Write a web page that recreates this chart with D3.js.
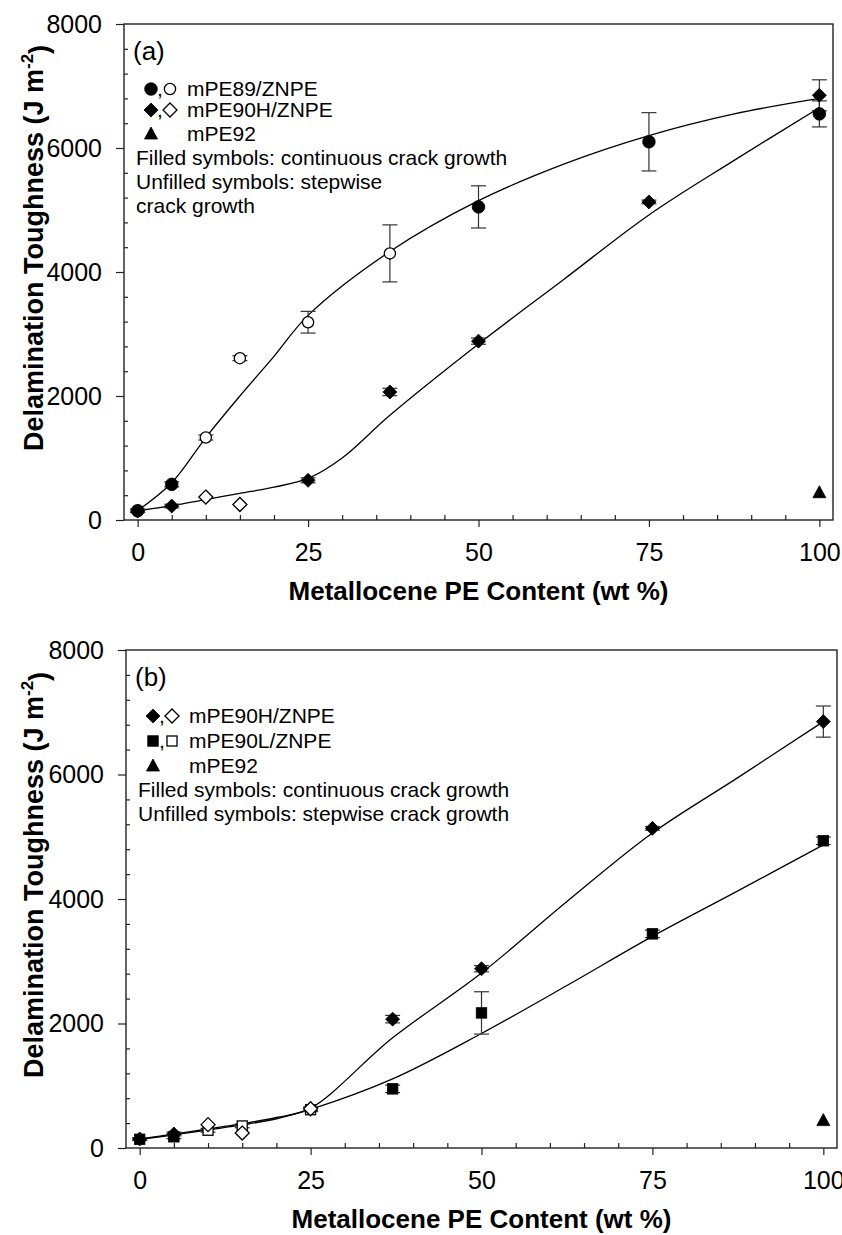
<!DOCTYPE html>
<html lang="en">
<head>
<meta charset="UTF-8">
<title>Delamination Toughness vs Metallocene PE Content</title>
<style>
    html, body { margin: 0; padding: 0; background: #fff; }
    svg { display: block; font-family: "Liberation Sans", Arial, Helvetica, sans-serif; }
</style>
</head>
<body>
<svg id="svg" width="842" height="1235"></svg>
<script src="https://d3js.org/d3.v7.min.js"></script>
<script>
    // tick labels
    const xTicks = [0, 25, 50, 75, 100];
    const yTicks = [0, 2000, 4000, 6000, 8000];

    // metallocene PE content (wt %)
    const content = [0, 5, 10, 15, 25, 37, 50, 75, 100];

    // panel (a) - mPE89/ZNPE
    const a89Value = [150, 575, 1330, 2610, 3190, 4300, 5050, 6100, 6550];
    const a89Err = [30, 40, 40, 40, 175, 460, 340, 470, 210];
    const a89Filled = [1, 1, 0, 0, 0, 0, 1, 1, 1];
    // panel (a) - mPE90H/ZNPE
    const a90HValue = [145, 225, 370, 250, 640, 2065, 2885, 5130, 6850];
    const a90HErr = [20, 30, 0, 0, 40, 60, 50, 30, 250];
    const a90HFilled = [1, 1, 0, 0, 1, 1, 1, 1, 1];

    // panel (b) - mPE90H/ZNPE
    const b90HValue = [145, 225, 375, 240, 630, 2070, 2880, 5135, 6850];
    const b90HErr = [20, 30, 0, 0, 30, 60, 50, 30, 250];
    const b90HFilled = [1, 1, 0, 0, 0, 1, 1, 1, 1];
    // panel (b) - mPE90L/ZNPE
    const b90LValue = [140, 180, 285, 355, 615, 950, 2170, 3440, 4935];
    const b90LErr = [20, 30, 30, 30, 30, 60, 340, 60, 60];
    const b90LFilled = [1, 1, 0, 0, 0, 1, 1, 1, 1];

    // mPE92 (both panels)
    const mPE92Content = [100];
    const mPE92Value = [440];

    // fitted curves
    const fitA89X = [0, 5, 10, 15, 20, 25, 37, 50, 62.5, 75, 87.5, 100];
    const fitA89Y = [150, 600, 1330, 2000, 2640, 3300, 4330, 5150, 5740, 6200, 6550, 6800];
    const fitA90HX = [0, 5, 10, 15, 20, 25, 30, 37, 50, 62.5, 75, 87.5, 100];
    const fitA90HY = [150, 230, 330, 430, 530, 670, 1000, 1690, 2840, 3880, 4920, 5800, 6650];
    const fitB90HX = [0, 5, 10, 15, 20, 25, 37, 50, 62.5, 75, 87.5, 100];
    const fitB90HY = [145, 225, 305, 390, 490, 640, 1770, 2810, 3960, 5060, 5950, 6850];
    const fitB90LX = [0, 5, 10, 15, 20, 25, 37, 50, 62.5, 75, 87.5, 100];
    const fitB90LY = [140, 210, 290, 370, 470, 620, 1110, 1840, 2610, 3400, 4130, 4870];

    const svg = d3.select('#svg');
    const zip = (xs, ys) => xs.map((v, i) => [v, ys[i]]);

    const panels = [
        {
            top: 24, bottom: 520, left: 124, right: 833, tag: '(a)',
            series: [
                { shape: 'circle', x: content, y: a89Value, err: a89Err, filled: a89Filled },
                { shape: 'diamond', x: content, y: a90HValue, err: a90HErr, filled: a90HFilled },
                { shape: 'triangle', x: mPE92Content, y: mPE92Value, err: [0], filled: [1] }
            ],
            fits: [zip(fitA89X, fitA89Y), zip(fitA90HX, fitA90HY)],
            legend: [
                { shapes: ['circle'], label: 'mPE89/ZNPE' },
                { shapes: ['diamond'], label: 'mPE90H/ZNPE' },
                { shapes: ['triangle'], label: 'mPE92', single: true }
            ],
            rows: [65, 86, 110],
            notes: ['Filled symbols: continuous crack growth', 'Unfilled symbols: stepwise', 'crack growth'],
            noteRows: [134, 158, 182]
        },
        {
            top: 650, bottom: 1148, left: 126, right: 837, tag: '(b)',
            series: [
                { shape: 'square', x: content, y: b90LValue, err: b90LErr, filled: b90LFilled },
                { shape: 'diamond', x: content, y: b90HValue, err: b90HErr, filled: b90HFilled },
                { shape: 'triangle', x: mPE92Content, y: mPE92Value, err: [0], filled: [1] }
            ],
            fits: [zip(fitB90HX, fitB90HY), zip(fitB90LX, fitB90LY)],
            legend: [
                { shapes: ['diamond'], label: 'mPE90H/ZNPE' },
                { shapes: ['square'], label: 'mPE90L/ZNPE' },
                { shapes: ['triangle'], label: 'mPE92', single: true }
            ],
            rows: [66, 91, 116],
            notes: ['Filled symbols: continuous crack growth', 'Unfilled symbols: stepwise crack growth'],
            noteRows: [140, 164]
        }
    ];

    function drawMarker(g, shape, cx, cy, filled) {
        const fill = filled ? '#000' : '#fff';
        const sw = filled ? 0.8 : 1.3;
        if (shape === 'circle') {
            g.append('circle').attr('cx', cx).attr('cy', cy).attr('r', filled ? 6.3 : 5.6)
                .attr('fill', fill).attr('stroke', '#000').attr('stroke-width', sw);
        } else if (shape === 'diamond') {
            const w = 7, h = 7;
            g.append('path')
                .attr('d', `M${cx},${cy - h}L${cx + w},${cy}L${cx},${cy + h}L${cx - w},${cy}Z`)
                .attr('fill', fill).attr('stroke', '#000').attr('stroke-width', sw);
        } else if (shape === 'square') {
            const s = filled ? 10.5 : 10;
            g.append('rect').attr('x', cx - s / 2).attr('y', cy - s / 2).attr('width', s).attr('height', s)
                .attr('fill', fill).attr('stroke', '#000').attr('stroke-width', sw);
        } else if (shape === 'triangle') {
            g.append('path')
                .attr('d', `M${cx},${cy - 7}L${cx + 6.5},${cy + 5}L${cx - 6.5},${cy + 5}Z`)
                .attr('fill', fill).attr('stroke', '#000').attr('stroke-width', 0.8);
        }
    }

    function styleAxis(sel, size) {
        sel.attr('font-size', null).attr('font-family', null);
        sel.select('.domain').remove();
        sel.selectAll('.tick line').attr('stroke', '#222').attr('stroke-width', 1.2);
        sel.selectAll('.tick text').attr('fill', '#000').style('font-size', size + 'px');
    }

    function drawPanel(p) {
        const g = svg.append('g');
        const x = d3.scaleLinear().domain([-2, 102]).range([p.left, p.right]);
        const y = d3.scaleLinear().domain([0, 8000]).range([p.bottom, p.top]);

        // major ticks with labels
        g.append('g').attr('transform', `translate(${p.left},0)`)
            .call(d3.axisLeft(y).tickValues(yTicks).tickSize(8).tickPadding(14).tickFormat(d3.format('d')))
            .call(s => styleAxis(s, 25));
        g.append('g').attr('transform', `translate(0,${p.bottom})`)
            .call(d3.axisBottom(x).tickValues(xTicks).tickSize(7).tickPadding(16).tickFormat(d3.format('d')))
            .call(s => styleAxis(s, 25));

        // minor ticks, pointing inwards
        const minorY = d3.range(400, 8000, 400).filter(v => v % 2000 !== 0);
        const minorX = d3.range(5, 100, 5).filter(v => v % 25 !== 0);
        g.append('g').attr('transform', `translate(${p.left},0)`)
            .call(d3.axisRight(y).tickValues(minorY).tickSize(4).tickFormat(''))
            .call(s => styleAxis(s, 25));
        g.append('g').attr('transform', `translate(0,${p.bottom})`)
            .call(d3.axisTop(x).tickValues(minorX).tickSize(5).tickFormat(''))
            .call(s => styleAxis(s, 25));

        // frame
        g.append('rect')
            .attr('x', p.left).attr('y', p.top)
            .attr('width', p.right - p.left).attr('height', p.bottom - p.top)
            .attr('fill', 'none').attr('stroke', '#222').attr('stroke-width', 1.4);

        // fitted curves
        const line = d3.line().x(d => x(d[0])).y(d => y(d[1])).curve(d3.curveCatmullRom.alpha(0.5));
        p.fits.forEach(f => {
            g.append('path').attr('d', line(f)).attr('fill', 'none')
                .attr('stroke', '#000').attr('stroke-width', 1.3);
        });

        // error bars
        p.series.forEach(s => {
            s.x.forEach((v, i) => {
                const e = s.err[i];
                if (!e) return;
                const cx = x(v), y0 = y(s.y[i] - e), y1 = y(s.y[i] + e);
                const eb = g.append('g').attr('stroke', '#333').attr('stroke-width', 1.2);
                eb.append('line').attr('x1', cx).attr('x2', cx).attr('y1', y0).attr('y2', y1);
                eb.append('line').attr('x1', cx - 7.5).attr('x2', cx + 7.5).attr('y1', y0).attr('y2', y0);
                eb.append('line').attr('x1', cx - 7.5).attr('x2', cx + 7.5).attr('y1', y1).attr('y2', y1);
            });
        });

        // markers
        p.series.forEach(s => {
            s.x.forEach((v, i) => drawMarker(g, s.shape, x(v), y(s.y[i]), s.filled[i]));
        });

        // panel tag
        g.append('text').attr('x', p.left + 9).attr('y', p.top + 36)
            .style('font-size', '26px').text(p.tag);

        // legend
        p.legend.forEach((l, i) => {
            const cy = p.top + p.rows[i];
            const sh = l.shapes[0];
            drawMarker(g, sh, p.left + 27, cy, 1);
            if (!l.single) {
                g.append('text').attr('x', p.left + 33).attr('y', cy + 7)
                    .style('font-size', '21px').text(',');
                drawMarker(g, sh, p.left + 46, cy, 0);
            }
            g.append('text').attr('x', p.left + 63).attr('y', cy + 7)
                .style('font-size', '21px').text(l.label);
        });
        p.notes.forEach((t, i) => {
            g.append('text').attr('x', p.left + 12).attr('y', p.top + p.noteRows[i] + 7)
                .style('font-size', '21px').text(t);
        });

        // axis titles
        g.append('text').attr('x', x(50)).attr('y', p.bottom + 80)
            .attr('text-anchor', 'middle')
            .style('font-size', '26px').style('font-weight', 'bold')
            .text('Metallocene PE Content (wt %)');

        const yt = g.append('text')
            .attr('transform', `translate(33,${(p.top + p.bottom) / 2 - 24}) rotate(-90)`)
            .attr('text-anchor', 'middle').attr('dy', '0.36em')
            .style('font-size', '27px').style('font-weight', 'bold');
        yt.append('tspan').text('Delamination Toughness (J m');
        yt.append('tspan').attr('dy', '-0.55em').style('font-size', '17px').text('-2');
        yt.append('tspan').attr('dy', '0.55em').text(')');
    }

    panels.forEach(drawPanel);
</script>
</body>
</html>
